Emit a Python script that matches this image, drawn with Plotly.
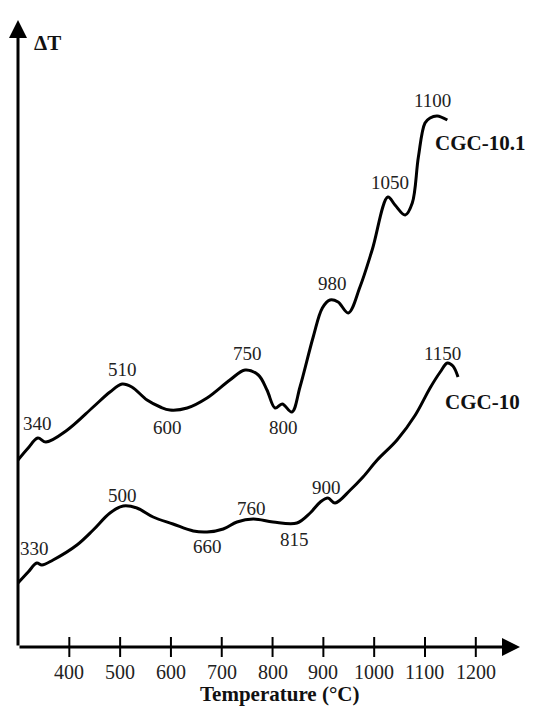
import plotly.graph_objects as go

# ---- data (temperature in °C, ΔT in arbitrary units) ----
cgc101_T = [299, 319, 338, 354, 396, 447, 480, 504, 523, 553, 579, 598, 632, 671, 716, 746,
            772, 789, 805, 819, 838, 854, 880, 898, 913, 929, 949, 972, 996, 1027, 1041, 1061,
            1075, 1087, 1100, 1110, 1124, 1144]
cgc101_dT = [187, 199, 209, 205, 217, 240, 255, 263, 260, 247, 240, 237, 239, 249, 267, 277,
             272, 257, 239, 243, 235, 260, 310, 339, 347, 345, 334, 360, 397, 450, 442, 432,
             444, 490, 524, 529, 531, 527]

cgc10_T = [299, 319, 336, 346, 368, 415, 447, 480, 506, 533, 565, 604, 644, 671, 703, 730,
           762, 801, 848, 874, 894, 909, 923, 953, 978, 1006, 1045, 1081, 1110, 1130, 1144,
           1155, 1165]
cgc10_dT = [64, 75, 84, 82, 87, 102, 117, 134, 141, 139, 130, 123, 116, 115, 118, 125,
            128, 125, 124, 134, 145, 149, 144, 157, 170, 187, 207, 232, 259, 275, 284,
            281, 270]

# peak labels: text, T, ΔT
cgc101_labels = ["340", "510", "600", "750", "800", "980", "1050", "1100"]
cgc101_lab_T = [338, 504, 594, 750, 821, 917, 1031, 1114]
cgc101_lab_dT = [224, 278, 220, 294, 220, 364, 465, 547]

cgc10_labels = ["330", "500", "660", "760", "815", "900", "1150"]
cgc10_lab_T = [332, 504, 671, 758, 844, 907, 1135]
cgc10_lab_dT = [99, 152, 101, 139, 108, 160, 294]

series_names = ["CGC-10.1", "CGC-10"]
series_name_T = [1209, 1213]
series_name_dT = [504, 245]

tick_vals = [400, 500, 600, 700, 800, 900, 1000, 1100, 1200]
tick_text = ["400", "500", "600", "700", "800", "900", "1000", "1100", "1200"]

x_min, x_max = 299, 1287
y_min, y_max = 0, 627

fig = go.Figure()
for T, dT, name in [(cgc101_T, cgc101_dT, series_names[0]), (cgc10_T, cgc10_dT, series_names[1])]:
    fig.add_trace(go.Scatter(x=T, y=dT, mode="lines", name=name,
                             line=dict(color="black", width=3, shape="spline", smoothing=1.0),
                             showlegend=False, hoverinfo="skip"))

ann = []
lab_font = dict(family="Liberation Serif", size=19, color="#222")
for labs, xs, ys in [(cgc101_labels, cgc101_lab_T, cgc101_lab_dT), (cgc10_labels, cgc10_lab_T, cgc10_lab_dT)]:
    for t, x, y in zip(labs, xs, ys):
        ann.append(dict(x=x, y=y, xref="x", yref="y", text=t, showarrow=False, font=lab_font))

for t, x, y in zip(series_names, series_name_T, series_name_dT):
    ann.append(dict(x=x, y=y, xref="x", yref="y", text="<b>" + t + "</b>", showarrow=False,
                    font=dict(family="Liberation Serif", size=21, color="#111")))

for v, t in zip(tick_vals, tick_text):
    ann.append(dict(x=v, y=-25, xref="x", yref="y", text=t, showarrow=False,
                    font=dict(family="Liberation Serif", size=20, color="#222")))

ann.append(dict(x=813, y=0, xref="x", yref="paper", yanchor="middle", yshift=-17,
                text="<b>Temperature (°C)</b>",
                showarrow=False, font=dict(family="Liberation Serif", size=21, color="#111")))
ann.append(dict(x=358, y=604, xref="x", yref="y", text="<b>ΔT</b>", showarrow=False,
                font=dict(family="Liberation Serif", size=21, color="#111")))

# axes with arrows
ann.append(dict(x=x_min, y=y_max, ax=x_min, ay=y_min, xref="x", yref="y", axref="x", ayref="y",
                text="", showarrow=True, arrowhead=2, arrowsize=1.2, arrowwidth=3, arrowcolor="black",
                standoff=0, startstandoff=0))
ann.append(dict(x=x_max, y=y_min, ax=x_min, ay=y_min, xref="x", yref="y", axref="x", ayref="y",
                text="", showarrow=True, arrowhead=2, arrowsize=1.2, arrowwidth=3, arrowcolor="black",
                standoff=0, startstandoff=0))

shapes = []
for v in tick_vals:
    shapes.append(dict(type="line", x0=v, x1=v, y0=-10, y1=10, xref="x", yref="y",
                       line=dict(color="black", width=2)))

fig.update_layout(
    width=534, height=707,
    margin=dict(l=18, r=14, t=20, b=30),
    paper_bgcolor="white", plot_bgcolor="white",
    xaxis=dict(range=[x_min, x_max], visible=False, fixedrange=True),
    yaxis=dict(range=[-30, y_max], visible=False, fixedrange=True),
    annotations=ann, shapes=shapes,
)

fig.write_html("out.html", config={"displayModeBar": False},
               post_script="document.body.style.margin='0px';document.body.style.overflow='hidden';")
